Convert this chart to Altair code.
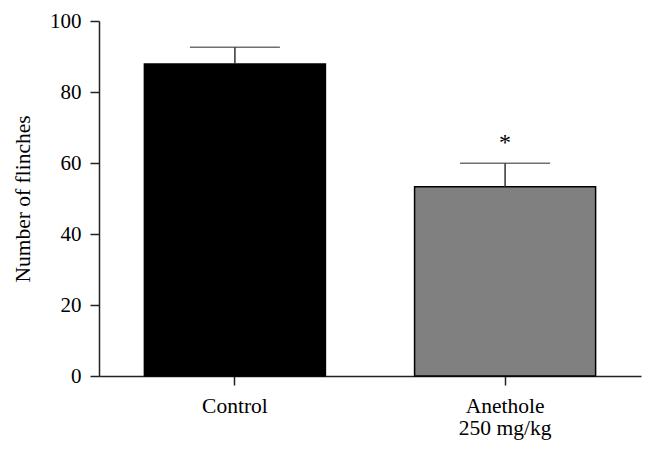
import altair as alt
import pandas as pd

groups = ["Control", "Anethole\n250 mg/kg"]
means = [87.9, 53.3]
sems = [4.7, 6.6]
marks = ["", "*"]
colors = ["#000000", "#808080"]

df = pd.DataFrame({
    "group": groups,
    "mean": means,
    "upper": [m + s for m, s in zip(means, sems)],
    "star": marks,
    "color": colors,
})

FONT = "Liberation Serif"

x = alt.X("group:N", sort=groups, title=None,
          scale=alt.Scale(paddingInner=0.33, paddingOuter=0.168),
          axis=alt.Axis(labelAngle=0, labelExpr="split(datum.value, '\\n')",
                        labelFont=FONT, labelFontSize=21.5, labelColor="#000",
                        labelLineHeight=22, labelPadding=10,
                        tickSize=9, tickColor="#222", tickWidth=1.5,
                        domainColor="#222", domainWidth=1.5))

y_scale = alt.Scale(domain=[0, 100], nice=False)

bars = alt.Chart(df).mark_bar(stroke="#000", strokeWidth=1.5).encode(
    x=x,
    y=alt.Y("mean:Q", scale=y_scale, title="Number of flinches",
            axis=alt.Axis(values=[0, 20, 40, 60, 80, 100], grid=False,
                          labelFont=FONT, labelFontSize=21, labelColor="#000",
                          labelPadding=9, tickSize=9, tickColor="#222", tickWidth=1.5,
                          domainColor="#222", domainWidth=1.5,
                          titleFont=FONT, titleFontSize=21.5, titleFontWeight="normal",
                          titleColor="#000", titlePadding=15)),
    color=alt.Color("color:N", scale=None),
)

err = alt.Chart(df).mark_rule(color="#333", strokeWidth=1.5).encode(
    x=alt.X("group:N", sort=groups),
    y=alt.Y("mean:Q", scale=y_scale),
    y2="upper:Q",
)

caps = alt.Chart(df).mark_tick(color="#333", thickness=1.5, size=90, orient="horizontal").encode(
    x=alt.X("group:N", sort=groups),
    y=alt.Y("upper:Q", scale=y_scale),
)

stars = alt.Chart(df).mark_text(font=FONT, fontSize=24, baseline="middle", dy=-20, color="#000").encode(
    x=alt.X("group:N", sort=groups),
    y=alt.Y("upper:Q", scale=y_scale),
    text="star:N",
)

chart = alt.layer(bars, err, caps, stars).properties(
    width=542, height=355,
    autosize=alt.AutoSizeParams(type="none"),
    padding={"left": 91, "top": 13, "right": 5, "bottom": 70},
    background="white",
).configure_view(stroke=None)

chart.save("out.html", embed_options={"renderer": "svg", "actions": False})
